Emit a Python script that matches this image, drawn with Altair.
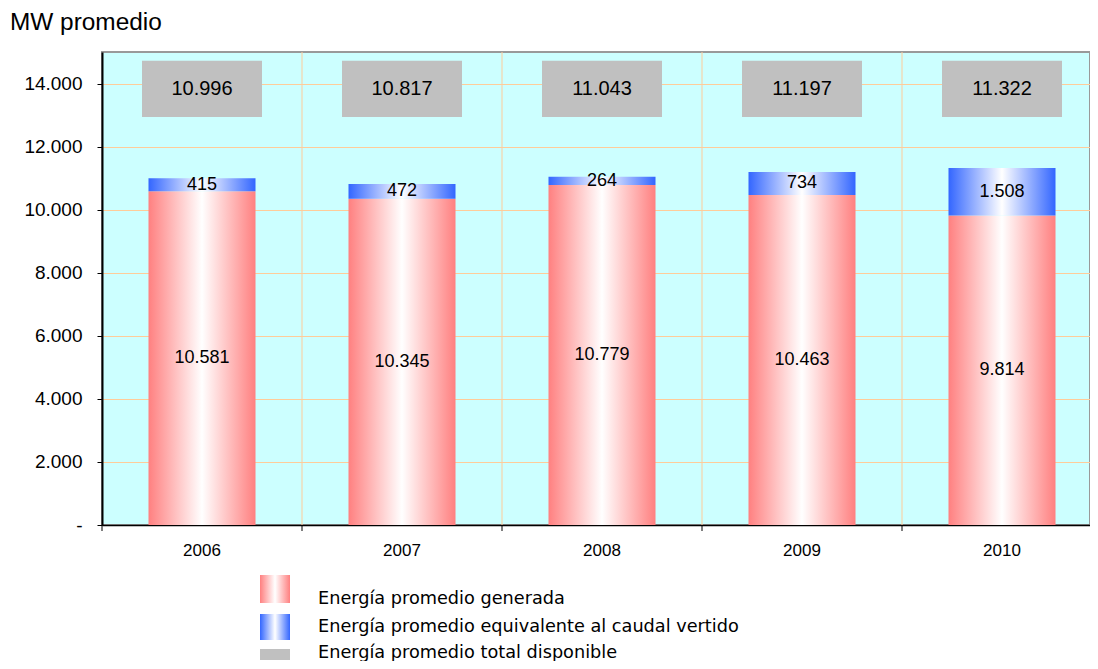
import altair as alt
import pandas as pd

years = ["2006", "2007", "2008", "2009", "2010"]
generada = [10581, 10345, 10779, 10463, 9814]
vertido = [415, 472, 264, 734, 1508]
disponible = [10996, 10817, 11043, 11197, 11322]
series = [
    "Energía promedio generada",
    "Energía promedio equivalente al caudal vertido",
    "Energía promedio total disponible",
]
y_ticks = [0, 2000, 4000, 6000, 8000, 10000, 12000, 14000]
box_low, box_high = 12940, 14720


def fmt(v):
    return f"{v:,}".replace(",", ".")


df = pd.DataFrame({
    "year": years,
    "gen": generada,
    "vert": vertido,
    "tot": disponible,
})
df["zero"] = 0
df["top"] = df["gen"] + df["vert"]
df["gen_mid"] = df["gen"] / 2
df["vert_mid"] = df["gen"] + df["vert"] / 2
df["gen_lbl"] = [fmt(v) for v in generada]
df["vert_lbl"] = [fmt(v) for v in vertido]
df["tot_lbl"] = [fmt(v) for v in disponible]
df["box_low"] = box_low
df["box_high"] = box_high
df["box_mid"] = (box_low + box_high) / 2

W, H = 988, 473
FONT = "Liberation Sans"

red = alt.LinearGradient(
    gradient="linear",
    stops=[alt.GradientStop(color="#FF8080", offset=0),
           alt.GradientStop(color="#FFFFFF", offset=0.5),
           alt.GradientStop(color="#FF8080", offset=1)],
    x1=0, x2=1, y1=0, y2=0)
blue = alt.LinearGradient(
    gradient="linear",
    stops=[alt.GradientStop(color="#3366FF", offset=0),
           alt.GradientStop(color="#FFFFFF", offset=0.5),
           alt.GradientStop(color="#3366FF", offset=1)],
    x1=0, x2=1, y1=0, y2=0)

xscale = alt.Scale(paddingInner=0, paddingOuter=0, range=[0, 1000])
yscale = alt.Scale(domain=[0, 15000], nice=False, zero=True)

base = alt.Chart(df)

x_main = alt.X("year:N", scale=xscale, sort=years,
               axis=alt.Axis(title=None, labelAngle=0, ticks=False, labelFontSize=17,
                             labelPadding=17, domainColor="#000000", domainWidth=1.5,
                             labelColor="#000000", labelFont=FONT, grid=False))

gen_bar = base.mark_bar(color=red, size=107).encode(
    x=x_main,
    y=alt.Y("zero:Q", scale=yscale,
            axis=alt.Axis(title=None, values=y_ticks, grid=True, gridColor="#FFCC99",
                          gridWidth=1, tickColor="#000000", tickSize=5, labelPadding=15,
                          labelFontSize=19, labelColor="#000000", labelFont=FONT,
                          domainColor="#000000", domainWidth=2,
                          labelExpr="datum.value == 0 ? '-\u00a0\u00a0\u00a0\u00a0' : replace(format(datum.value, ','), ',', '.')")),
    y2="gen:Q",
)

vert_bar = base.mark_bar(color=blue, size=107).encode(
    x=alt.X("year:N", sort=years), y="gen:Q", y2="top:Q")

box = base.mark_bar(color="#C0C0C0", size=120).encode(
    x=alt.X("year:N", sort=years), y="box_low:Q", y2="box_high:Q")

gen_txt = base.mark_text(fontSize=18, font=FONT, color="#000000", baseline="middle").encode(
    x=alt.X("year:N", sort=years), y="gen_mid:Q", text="gen_lbl:N")
vert_txt = base.mark_text(fontSize=18, font=FONT, color="#000000", baseline="middle").encode(
    x=alt.X("year:N", sort=years), y="vert_mid:Q", text="vert_lbl:N")
box_txt = base.mark_text(fontSize=20, font=FONT, color="#000000", baseline="middle").encode(
    x=alt.X("year:N", sort=years), y="box_mid:Q", text="tot_lbl:N")

vgrid = alt.Chart(df[df["year"] != years[0]]).mark_rule(color="#FFCC99", strokeWidth=1).encode(
    x=alt.X("year:N", sort=years, bandPosition=0), y=alt.value(0), y2=alt.value(H))
xticks = base.mark_rule(color="#000000", strokeWidth=1).encode(
    x=alt.X("year:N", sort=years, bandPosition=0), y=alt.value(H), y2=alt.value(H + 6))

one = alt.Data(values=[{"a": 1}])
title = alt.Chart(one).mark_text(fontSize=24.4, font=FONT, align="left", baseline="alphabetic",
                                 color="#000000").encode(
    x=alt.value(-92), y=alt.value(-22), text=alt.value("MW promedio"))

swatch_fill = [red, blue, "#C0C0C0"]
swatch_y = [(523, 551), (562, 588), (597, 608)]
text_y = [547, 575, 601]
legend_layers = []
for name, fill, (ya, yb), ty in zip(series, swatch_fill, swatch_y, text_y):
    legend_layers.append(alt.Chart(one).mark_rect(color=fill).encode(
        x=alt.value(158), x2=alt.value(188), y=alt.value(ya), y2=alt.value(yb)))
    legend_layers.append(alt.Chart(one).mark_text(fontSize=17.7, font="DejaVu Sans", align="left",
                                                  baseline="middle", color="#000000").encode(
        x=alt.value(216), y=alt.value(ty), text=alt.value(name)))

chart = alt.layer(
    gen_bar, vgrid, vert_bar, box, gen_txt, vert_txt, box_txt, xticks, title, *legend_layers
).properties(
    width=W, height=H,
    autosize=alt.AutoSizeParams(type="none"),
    padding={"left": 94, "top": 44, "right": 0, "bottom": 136},
    background="#FFFFFF",
).configure_view(
    fill="#CCFFFF", stroke="#999999", strokeWidth=2
)

chart.save("out.html", embed_options={"renderer": "svg", "actions": False})
